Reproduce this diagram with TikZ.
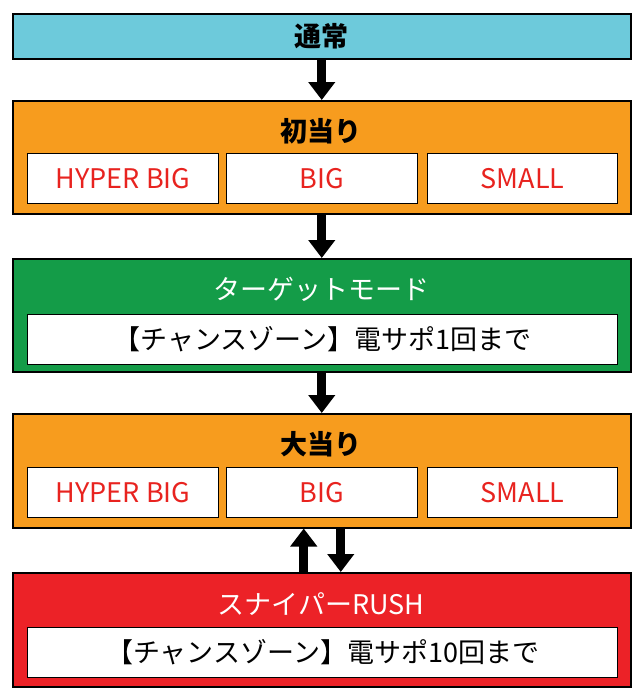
\documentclass[tikz,border=0pt]{standalone}
\usepackage{fontspec}
\setmainfont{Noto Sans CJK JP}
\usetikzlibrary{arrows.meta}
\definecolor{tsujo}{HTML}{6DCADB}
\definecolor{hatsu}{HTML}{F79C1E}
\definecolor{target}{HTML}{149C48}
\definecolor{rush}{HTML}{EC2227}
\definecolor{redtext}{HTML}{E8231F}
\newcommand{\bigfont}{\fontsize{27}{30}\selectfont}
\tikzstyle{every node}=[text centered, inner sep=0pt]
\tikzstyle{label}=[font=\bigfont]
\tikzstyle{title}=[font=\bigfont\bfseries]
\tikzstyle{stage}=[draw=black, line width=1.5pt, minimum width=618pt, anchor=north west]
\tikzstyle{sub}=[draw=black, fill=white, line width=1.2pt, minimum height=50pt, anchor=north west, font=\bigfont]
\tikzstyle{flow}=[line width=9pt, -{Triangle[width=26pt,length=18pt]}]

\begin{document}
\begin{tikzpicture}[x=1pt, y=-1pt]
  \useasboundingbox (0,0) rectangle (640,694);

  % stages
  \node[stage, fill=tsujo, minimum height=45pt] (tsujo) at (12,13) {};
  \node[title] (tsujoT) at (321,36) {通常};

  \node[stage, fill=hatsu, minimum height=113pt] (hatsu) at (12,100) {};
  \node[title] (hatsuT) at (321,131) {初当り};
  \node[sub, minimum width=191pt, text=redtext] (hatsuA) at (27,153) {HYPER BIG};
  \node[sub, minimum width=191pt, text=redtext] (hatsuB) at (226,153) {BIG};
  \node[sub, minimum width=190pt, text=redtext] (hatsuC) at (427,153) {SMALL};

  \node[stage, fill=target, minimum height=113pt] (target) at (12,258) {};
  \node[label, text=white] (targetT) at (321,289) {ターゲットモード};
  \node[sub, minimum width=590pt] (targetS) at (27,314) {【チャンスゾーン】電サポ1回まで};

  \node[stage, fill=hatsu, minimum height=114pt] (ooatari) at (12,413) {};
  \node[title] (ooatariT) at (321,444) {大当り};
  \node[sub, minimum width=191pt, text=redtext] (ooatariA) at (27,467) {HYPER BIG};
  \node[sub, minimum width=191pt, text=redtext] (ooatariB) at (226,467) {BIG};
  \node[sub, minimum width=190pt, text=redtext] (ooatariC) at (427,467) {SMALL};

  \node[stage, fill=rush, minimum height=114pt] (rush) at (12,572) {};
  \node[label, text=white] (rushT) at (321,604) {スナイパーRUSH};
  \node[sub, minimum width=590pt] (rushS) at (27,627) {【チャンスゾーン】電サポ10回まで};

  % arrows
  \draw[flow] (tsujo.south) -- (hatsu.north);
  \draw[flow] (hatsu.south) -- (target.north);
  \draw[flow] (target.south) -- (ooatari.north);
  \draw[flow] ([xshift=-18pt]rush.north) -- ([xshift=-18pt]ooatari.south);
  \draw[flow] ([xshift=19pt]ooatari.south) -- ([xshift=19pt]rush.north);
\end{tikzpicture}
\end{document}
